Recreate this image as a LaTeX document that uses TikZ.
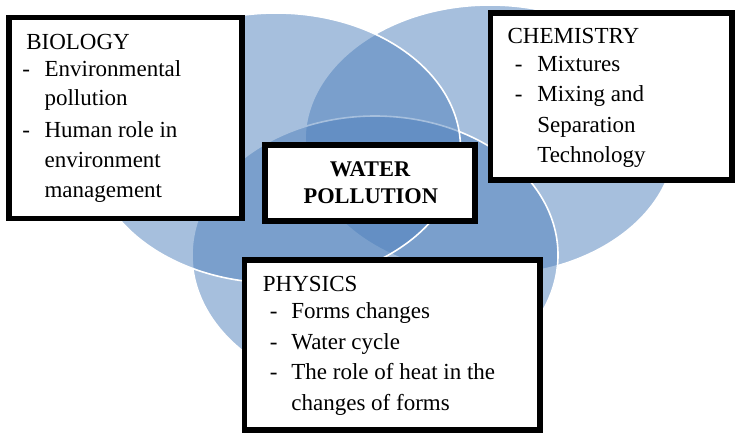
\documentclass[tikz,border=0pt]{standalone}
\usepackage{fontspec}
\setmainfont{Liberation Serif}
\definecolor{vblue}{HTML}{4F81BD}
\begin{document}
\begin{tikzpicture}[x=1pt,y=-1pt,
  venn/.style={fill=vblue,fill opacity=0.5,draw=white,draw opacity=1,line width=1.6pt},
  thickbox/.style={draw=black,fill=white,line width=5.8pt,inner sep=0pt,outer sep=0pt},
  txt/.style={inner sep=0pt,outer sep=0pt,anchor=base west,font=\fontsize{23}{27}\selectfont},
  ttl/.style={inner sep=0pt,outer sep=0pt,anchor=base,font=\fontsize{22.4}{26}\selectfont\bfseries}]
\useasboundingbox (0,0) rectangle (741,441);
\fill[white] (0,0) rectangle (741,441);
% Venn ellipses
\path[venn] (490,140) ellipse [x radius=185pt, y radius=135pt];
\path[venn] (375,255) ellipse [x radius=183pt, y radius=139pt];
\path[venn] (276,148) ellipse [x radius=184.5pt, y radius=135pt];
% boxes
\node[thickbox,minimum width=233pt,minimum height=201pt] (bio) at (125.5,118) {};
\node[thickbox,minimum width=241.5pt,minimum height=167pt] (chem) at (611.25,96.5) {};
\node[thickbox,minimum width=209.4pt,minimum height=76.3pt] (water) at (370,183.15) {};
\node[thickbox,minimum width=295.5pt,minimum height=170pt] (phys) at (392.25,345) {};
% biology text
\node[txt] (bioT) at (26.3,49.3) {BIOLOGY};
\node[txt] (bioD1) at (22.4,76.7) {-};
\node[txt] (bio1a) at (44.6,76.7) {Environmental};
\node[txt] (bio1b) at (44.6,106) {pollution};
\node[txt] (bioD2) at (22.4,137.3) {-};
\node[txt] (bio2a) at (44.6,137.3) {Human role in};
\node[txt] (bio2b) at (44.6,167.3) {environment};
\node[txt] (bio2c) at (44.6,197.3) {management};
% chemistry text
\node[txt] (chemT) at (507.6,44) {CHEMISTRY};
\node[txt] (chemD1) at (514.8,71.3) {-};
\node[txt] (chem1) at (537.3,71.3) {Mixtures};
\node[txt] (chemD2) at (514.8,102) {-};
\node[txt] (chem2a) at (537.3,102) {Mixing and};
\node[txt] (chem2b) at (537.3,132.3) {Separation};
\node[txt] (chem2c) at (537.3,162.3) {Technology};
% physics text
\node[txt] (physT) at (262.9,291) {PHYSICS};
\node[txt] (physD1) at (269.8,318.3) {-};
\node[txt] (phys1) at (291.4,318.3) {Forms changes};
\node[txt] (physD2) at (269.8,349) {-};
\node[txt] (phys2) at (291.4,349) {Water cycle};
\node[txt] (physD3) at (269.8,379.3) {-};
\node[txt] (phys3a) at (291.4,379.3) {The role of heat in the};
\node[txt] (phys3b) at (291.4,410) {changes of forms};
% title
\node[ttl] (w1) at (370,176.7) {WATER};
\node[ttl] (w2) at (370.8,203.3) {POLLUTION};
\end{tikzpicture}
\end{document}
